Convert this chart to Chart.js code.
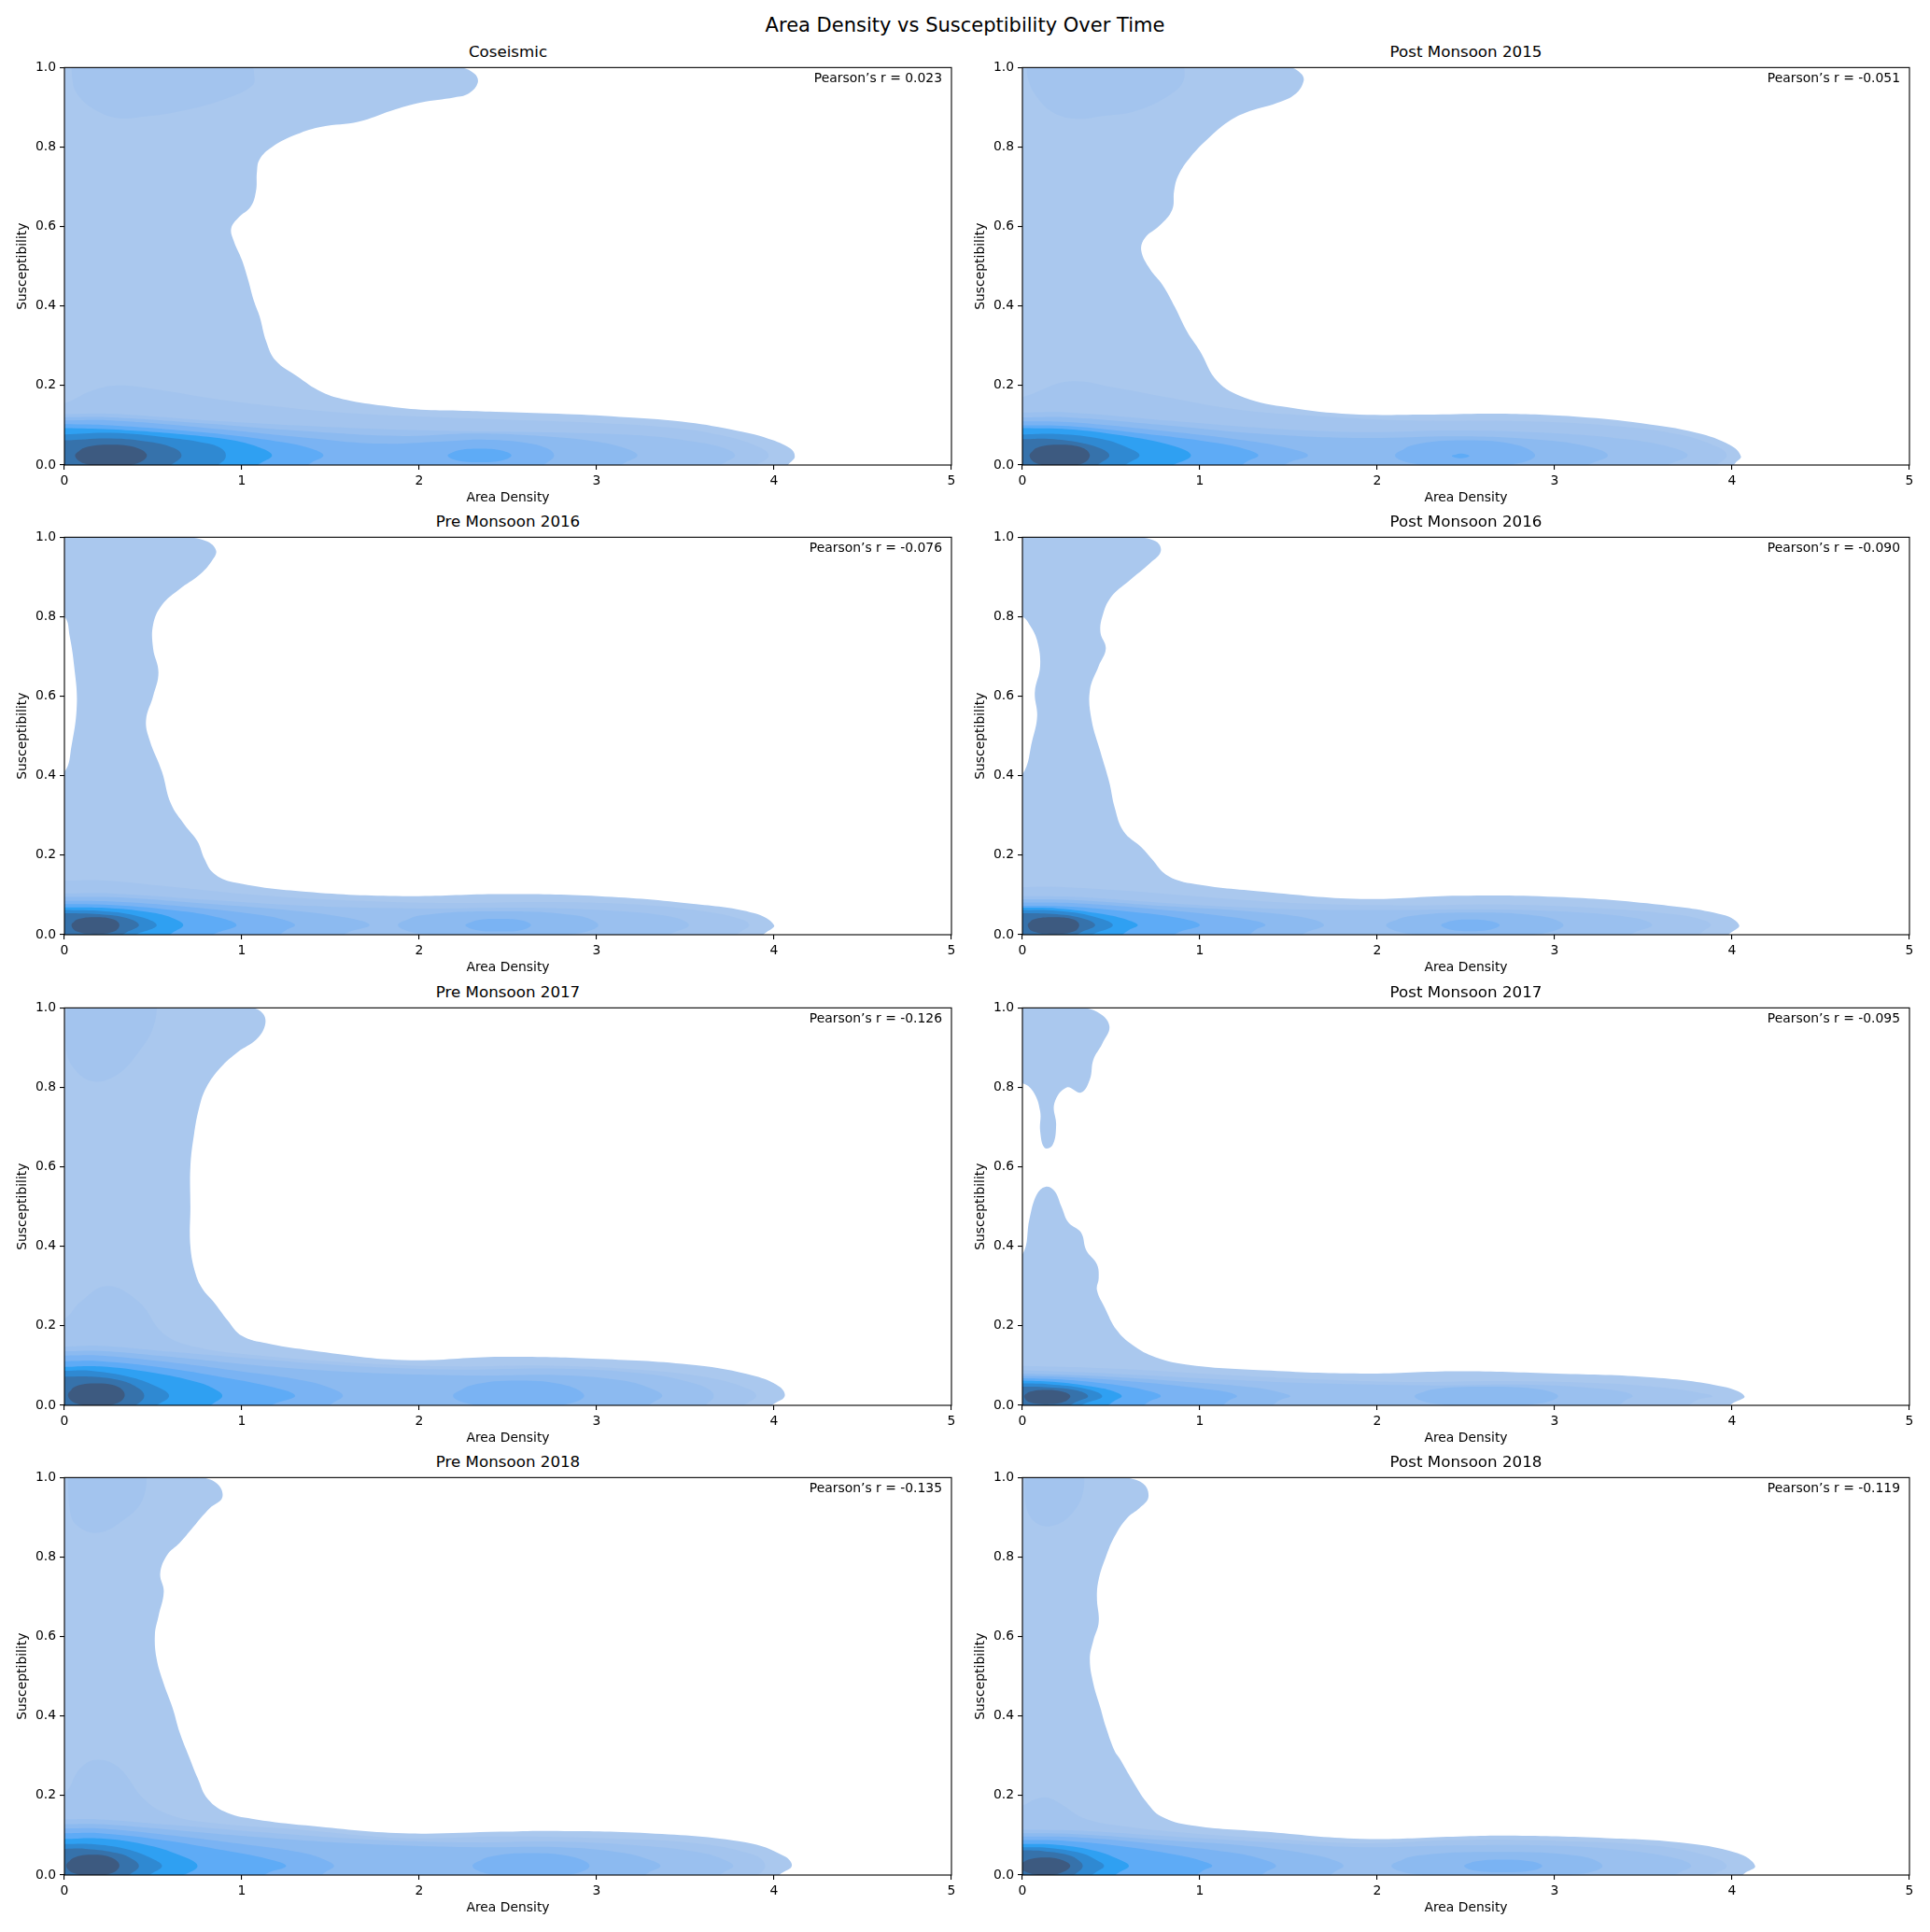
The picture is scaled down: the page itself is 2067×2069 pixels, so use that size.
<!DOCTYPE html>
<html lang="en">
<head>
<meta charset="UTF-8">
<title>Area Density vs Susceptibility Over Time</title>
<script src="https://cdn.jsdelivr.net/npm/chart.js"></script>
<style>
  body, html { margin: 0; padding: 0; background: #fff; }
  .figure { position: relative; width: 2067px; height: 2069px; background: #fff; font-family: "DejaVu Sans", sans-serif; color: #000; }
  .suptitle { position: absolute; left: 0; top: 17px; width: 2067px; text-align: center; font-size: 21px; line-height: 21px; }
  .panel-title { position: absolute; width: 950px; text-align: center; font-size: 16.7px; line-height: 16.7px; }
  .pearson { position: absolute; width: 400px; text-align: right; font-size: 13.9px; line-height: 13.9px; }
  canvas { position: absolute; }
</style>
</head>
<body>
<div class="figure" id="figure">
  <div class="suptitle">Area Density vs Susceptibility Over Time</div>
</div>

<script>
// colours of the 10 density levels, lightest (outer) to darkest (core)
const levelColors = ['#aac8ee', '#a3c4ee', '#9ac0ef', '#8cbaf0', '#7ab3f3', '#5eabf6', '#2fa0f2', '#2f89d2', '#3672ab', '#3d5a80'];

const panelTitles = ['Coseismic', 'Post Monsoon 2015', 'Pre Monsoon 2016', 'Post Monsoon 2016',
  'Pre Monsoon 2017', 'Post Monsoon 2017', 'Pre Monsoon 2018', 'Post Monsoon 2018'];
const pearsonR = [0.023, -0.051, -0.076, -0.090, -0.126, -0.095, -0.135, -0.119];

const xTickValues = [0, 1, 2, 3, 4, 5];
const yTickValues = [0.0, 0.2, 0.4, 0.6, 0.8, 1.0];

// ---- Coseismic ----
const coseismicOutline = [[[-0.1,1.0],[2.22,1.0],[2.31,0.985],[2.33,0.962],[2.28,0.935],[2.2,0.925],[2.01,0.912],[1.84,0.891],[1.66,0.864],[1.45,0.851],[1.31,0.832],[1.17,0.8],[1.1,0.769],[1.085,0.737],[1.08,0.69],[1.05,0.65],[0.98,0.622],[0.94,0.595],[0.955,0.563],[1.0,0.516],[1.034,0.468],[1.068,0.413],[1.1,0.374],[1.138,0.31],[1.19,0.263],[1.31,0.224],[1.45,0.184],[1.59,0.164],[1.8,0.149],[2.01,0.139],[2.22,0.137],[2.43,0.134],[2.78,0.129],[3.13,0.121],[3.48,0.109],[3.76,0.089],[3.97,0.066],[4.09,0.042],[4.117,0.022],[4.09,0.006],[4.0,-0.03],[-0.1,-0.03]]];
const coseismicTop = [[[0.04,1.03],[0.045,0.97],[0.07,0.935],[0.16,0.897],[0.3,0.873],[0.45,0.877],[0.65,0.89],[0.9,0.92],[1.06,0.955],[1.07,0.98],[1.05,1.03]]];
const coseismicBands = [
  [[0,0.155],[0.15,0.186],[0.3,0.2],[0.55,0.188],[0.8,0.17],[1.1,0.152],[1.5,0.134],[2.0,0.122],[2.5,0.114],[3.0,0.106],[3.4,0.095],[3.7,0.075],[3.9,0.048],[3.97,0.024]],
  [[0,0.128],[0.26,0.129],[0.81,0.112],[1.63,0.093],[2.19,0.086],[2.74,0.082],[3.29,0.073],[3.56,0.058],[3.72,0.042],[3.78,0.024]],
  [[0,0.12],[0.26,0.12],[0.81,0.104],[1.36,0.085],[1.91,0.073],[2.32,0.079],[2.74,0.071],[3.01,0.058],[3.16,0.042],[3.23,0.024]],
  [[0,0.112],[0.26,0.112],[0.81,0.093],[1.36,0.069],[1.77,0.054],[2.16,0.06],[2.35,0.064],[2.6,0.056],[2.72,0.042],[2.76,0.024]],
  [[0,0.103],[0.26,0.1],[0.81,0.081],[1.22,0.058],[1.4,0.04],[1.46,0.024]],
  [[0,0.093],[0.26,0.09],[0.67,0.077],[0.95,0.062],[1.11,0.042],[1.17,0.024]],
  [[0,0.077],[0.26,0.081],[0.59,0.069],[0.81,0.054],[0.89,0.04],[0.91,0.024]],
  [[0,0.062],[0.26,0.067],[0.48,0.058],[0.62,0.042],[0.66,0.024]]
];
const coseismicIslands = [
  [6, [[2.16,0.024],[2.21,0.036],[2.34,0.041],[2.47,0.036],[2.52,0.024],[2.47,0.012],[2.34,0.007],[2.21,0.012]]]
];
const coseismicCore = [[0.06,0.024],[0.11,0.043],[0.26,0.051],[0.41,0.043],[0.465,0.024],[0.41,0.004],[0.26,-0.003],[0.11,0.004]];

// ---- Post Monsoon 2015 ----
const post2015Outline = [[[-0.1,1.0],[1.5,1.0],[1.57,0.985],[1.585,0.966],[1.54,0.934],[1.435,0.911],[1.26,0.887],[1.157,0.863],[1.053,0.824],[0.949,0.776],[0.879,0.729],[0.855,0.69],[0.844,0.642],[0.775,0.603],[0.69,0.571],[0.67,0.539],[0.72,0.492],[0.79,0.453],[0.86,0.397],[0.93,0.334],[1.0,0.287],[1.1,0.21],[1.25,0.17],[1.5,0.145],[1.85,0.128],[2.27,0.127],[2.69,0.129],[3.14,0.121],[3.49,0.105],[3.8,0.081],[3.99,0.05],[4.05,0.022],[4.02,0.006],[3.95,-0.03],[-0.1,-0.03]]];
const post2015Top = [[[0.025,1.03],[0.03,0.975],[0.08,0.927],[0.18,0.885],[0.31,0.871],[0.45,0.878],[0.64,0.891],[0.84,0.934],[0.91,0.97],[0.9,1.03]]];
const post2015Bands = [
  [[0,0.171],[0.26,0.21],[0.53,0.194],[0.81,0.171],[1.22,0.139],[1.63,0.124],[2.19,0.112],[2.74,0.111],[3.29,0.1],[3.7,0.077],[3.92,0.045],[3.97,0.024]],
  [[0,0.132],[0.26,0.132],[0.81,0.112],[1.36,0.093],[1.91,0.083],[2.46,0.087],[3.0,0.08],[3.4,0.065],[3.65,0.045],[3.75,0.024]],
  [[0,0.12],[0.26,0.12],[0.81,0.1],[1.36,0.078],[1.9,0.068],[2.5,0.072],[2.95,0.062],[3.2,0.045],[3.3,0.024]],
  [[0,0.11],[0.26,0.108],[0.81,0.085],[1.25,0.062],[1.5,0.042],[1.61,0.024]],
  [[0,0.1],[0.26,0.098],[0.7,0.078],[1.1,0.055],[1.27,0.038],[1.33,0.024]],
  [[0,0.093],[0.26,0.09],[0.55,0.075],[0.85,0.048],[0.95,0.024]],
  [[0,0.077],[0.2,0.078],[0.45,0.065],[0.6,0.042],[0.66,0.024]],
  [[0,0.065],[0.15,0.066],[0.33,0.056],[0.45,0.04],[0.49,0.024]]
];
const post2015Islands = [
  [5, [[2.1,0.024],[2.2,0.05],[2.5,0.062],[2.79,0.05],[2.89,0.024],[2.79,0.004],[2.5,-0.004],[2.2,0.004]]],
  [6, [[2.42,0.023],[2.47,0.029],[2.52,0.023],[2.47,0.017]]]
];
const post2015Core = [[0.04,0.024],[0.08,0.043],[0.21,0.051],[0.34,0.043],[0.38,0.024],[0.34,0.004],[0.21,-0.003],[0.08,0.004]];

// ---- Pre Monsoon 2016 ----
const pre2016Outline = [[[-0.1,1.0],[0.66,1.0],[0.8,0.99],[0.855,0.966],[0.83,0.94],[0.76,0.905],[0.65,0.87],[0.55,0.83],[0.5,0.78],[0.5,0.72],[0.53,0.66],[0.5,0.6],[0.46,0.54],[0.48,0.49],[0.55,0.41],[0.6,0.33],[0.68,0.275],[0.75,0.235],[0.79,0.19],[0.84,0.155],[0.95,0.132],[1.36,0.108],[1.91,0.097],[2.46,0.102],[3.01,0.097],[3.56,0.077],[3.89,0.054],[4.0,0.024],[3.95,0.004],[3.85,-0.03],[-0.1,-0.03],[-0.1,0.4],[0,0.41],[0.04,0.475],[0.07,0.58],[0.055,0.675],[0.03,0.75],[0,0.8],[-0.1,0.81]]];
const pre2016Top = [];
const pre2016Bands = [
  [[0,0.136],[0.2,0.137],[0.53,0.124],[1.08,0.1],[1.63,0.086],[2.19,0.08],[2.74,0.082],[3.29,0.074],[3.65,0.056],[3.82,0.038],[3.86,0.024]],
  [[0,0.104],[0.3,0.103],[0.8,0.088],[1.4,0.072],[2.0,0.066],[2.6,0.068],[3.1,0.06],[3.42,0.045],[3.52,0.024]],
  [[0,0.095],[0.3,0.094],[0.8,0.078],[1.3,0.06],[1.6,0.042],[1.72,0.024]],
  [[0,0.085],[0.3,0.083],[0.7,0.07],[1.1,0.05],[1.25,0.036],[1.3,0.024]],
  [[0,0.077],[0.25,0.075],[0.6,0.062],[0.85,0.045],[0.97,0.024]],
  [[0,0.069],[0.25,0.067],[0.5,0.055],[0.62,0.04],[0.67,0.024]],
  [[0,0.062],[0.2,0.06],[0.4,0.048],[0.52,0.024]],
  [[0,0.054],[0.17,0.052],[0.35,0.042],[0.42,0.024]]
];
const pre2016Islands = [
  [4, [[1.88,0.024],[2.0,0.048],[2.45,0.059],[2.89,0.048],[3.01,0.024],[2.89,0.003],[2.45,-0.005],[2.0,0.003]]],
  [5, [[2.26,0.024],[2.32,0.036],[2.45,0.04],[2.58,0.036],[2.63,0.024],[2.58,0.012],[2.45,0.008],[2.32,0.012]]]
];
const pre2016Core = [[0.04,0.024],[0.07,0.038],[0.175,0.044],[0.28,0.038],[0.31,0.024],[0.28,0.008],[0.175,0.002],[0.07,0.008]];

// ---- Post Monsoon 2016 ----
const post2016Outline = [[[-0.1,1.0],[0.62,1.0],[0.75,0.99],[0.78,0.965],[0.72,0.935],[0.6,0.89],[0.5,0.85],[0.45,0.8],[0.44,0.76],[0.47,0.72],[0.43,0.676],[0.38,0.614],[0.39,0.54],[0.44,0.46],[0.49,0.383],[0.52,0.32],[0.57,0.26],[0.67,0.22],[0.73,0.19],[0.81,0.151],[0.95,0.129],[1.36,0.108],[1.91,0.09],[2.46,0.098],[3.01,0.095],[3.56,0.077],[3.95,0.05],[4.04,0.024],[3.99,0.004],[3.9,-0.03],[-0.1,-0.03],[-0.1,0.39],[0,0.404],[0.056,0.49],[0.083,0.55],[0.07,0.61],[0.1,0.676],[0.083,0.74],[0.04,0.78],[0,0.8],[-0.1,0.81]]];
const post2016Top = [];
const post2016Bands = [
  [[0,0.12],[0.15,0.121],[0.53,0.112],[1.08,0.093],[1.63,0.078],[2.19,0.074],[2.74,0.076],[3.29,0.066],[3.7,0.05],[3.85,0.035],[3.88,0.024]],
  [[0,0.097],[0.3,0.095],[0.8,0.08],[1.4,0.066],[2.0,0.062],[2.6,0.064],[3.1,0.057],[3.45,0.042],[3.55,0.024]],
  [[0,0.089],[0.3,0.087],[0.8,0.072],[1.3,0.058],[1.6,0.042],[1.7,0.024]],
  [[0,0.081],[0.3,0.079],[0.8,0.062],[1.15,0.046],[1.32,0.034],[1.37,0.024]],
  [[0,0.073],[0.25,0.071],[0.6,0.058],[0.88,0.042],[1.0,0.024]],
  [[0,0.068],[0.2,0.066],[0.45,0.052],[0.6,0.036],[0.65,0.024]],
  [[0,0.062],[0.2,0.06],[0.4,0.046],[0.51,0.024]],
  [[0,0.054],[0.17,0.052],[0.33,0.042],[0.41,0.024]]
];
const post2016Islands = [
  [4, [[2.05,0.024],[2.17,0.046],[2.55,0.056],[2.93,0.046],[3.05,0.024],[2.93,0.003],[2.55,-0.005],[2.17,0.003]]],
  [5, [[2.36,0.024],[2.41,0.034],[2.52,0.038],[2.64,0.034],[2.69,0.024],[2.64,0.013],[2.52,0.009],[2.41,0.013]]]
];
const post2016Core = [[0.03,0.024],[0.06,0.038],[0.175,0.044],[0.29,0.038],[0.32,0.024],[0.29,0.008],[0.175,0.002],[0.06,0.008]];

// ---- Pre Monsoon 2017 ----
const pre2017Outline = [[[-0.1,1.0],[1.05,1.0],[1.12,0.985],[1.13,0.955],[1.08,0.92],[0.98,0.89],[0.88,0.85],[0.8,0.8],[0.76,0.75],[0.73,0.68],[0.71,0.6],[0.71,0.5],[0.71,0.4],[0.74,0.33],[0.78,0.292],[0.84,0.261],[0.92,0.214],[1.0,0.175],[1.14,0.156],[1.36,0.14],[1.91,0.114],[2.46,0.122],[3.01,0.117],[3.56,0.101],[3.89,0.074],[4.03,0.047],[4.06,0.023],[4.0,0.004],[3.9,-0.03],[-0.1,-0.03]]];
const pre2017Top = [[[0.02,1.03],[0.01,0.9],[0.05,0.85],[0.16,0.815],[0.3,0.833],[0.42,0.89],[0.5,0.95],[0.53,1.03]]];
const pre2017Bands = [
  [[0,0.218],[0.09,0.26],[0.24,0.3],[0.42,0.26],[0.56,0.18],[0.75,0.146],[1.08,0.126],[1.63,0.107],[2.19,0.098],[2.74,0.1],[3.29,0.088],[3.65,0.068],[3.85,0.042],[3.9,0.024]],
  [[0,0.148],[0.2,0.15],[0.6,0.135],[1.0,0.12],[1.6,0.1],[2.2,0.09],[2.8,0.092],[3.3,0.078],[3.55,0.055],[3.64,0.038],[3.66,0.024]],
  [[0,0.136],[0.2,0.137],[0.6,0.122],[1.1,0.1],[1.7,0.082],[2.3,0.075],[2.8,0.076],[3.15,0.062],[3.32,0.04],[3.37,0.024]],
  [[0,0.125],[0.2,0.125],[0.6,0.108],[1.0,0.085],[1.35,0.062],[1.52,0.04],[1.57,0.024]],
  [[0,0.111],[0.2,0.111],[0.55,0.095],[0.9,0.07],[1.18,0.045],[1.3,0.024]],
  [[0,0.097],[0.2,0.098],[0.5,0.082],[0.75,0.058],[0.85,0.04],[0.89,0.024]],
  [[0,0.087],[0.15,0.087],[0.38,0.07],[0.53,0.045],[0.59,0.024]],
  [[0,0.072],[0.15,0.072],[0.32,0.062],[0.42,0.042],[0.45,0.024]]
];
const pre2017Islands = [
  [5, [[2.19,0.024],[2.29,0.05],[2.56,0.062],[2.83,0.05],[2.93,0.024],[2.83,0.003],[2.56,-0.005],[2.29,0.003]]]
];
const pre2017Core = [[0.02,0.026],[0.06,0.047],[0.18,0.055],[0.3,0.047],[0.34,0.026],[0.3,0.006],[0.18,-0.002],[0.06,0.006]];

// ---- Post Monsoon 2017 ----
const post2017Outline = [
  [[-0.1,0.37],[0,0.38],[0.04,0.47],[0.08,0.53],[0.13,0.55],[0.18,0.54],[0.22,0.5],[0.26,0.46],[0.33,0.435],[0.36,0.39],[0.42,0.355],[0.43,0.32],[0.42,0.29],[0.465,0.245],[0.53,0.19],[0.62,0.152],[0.75,0.121],[0.95,0.101],[1.36,0.088],[1.91,0.08],[2.46,0.086],[3.01,0.08],[3.56,0.07],[3.95,0.047],[4.07,0.023],[4.0,0.004],[3.9,-0.03],[-0.1,-0.03]],
  [[-0.1,1.0],[0.31,1.0],[0.42,0.99],[0.49,0.955],[0.45,0.91],[0.4,0.87],[0.38,0.82],[0.33,0.787],[0.25,0.8],[0.18,0.76],[0.19,0.705],[0.17,0.655],[0.125,0.648],[0.1,0.69],[0.1,0.74],[0.06,0.79],[0,0.81],[-0.1,0.81]]
];
const post2017Top = [];
const post2017Bands = [
  [[0,0.099],[0.53,0.092],[1.08,0.078],[1.63,0.066],[2.19,0.059],[2.74,0.061],[3.29,0.055],[3.6,0.045],[3.8,0.033],[3.89,0.023]],
  [[0,0.088],[0.5,0.08],[1.1,0.066],[1.7,0.055],[2.3,0.05],[2.8,0.052],[3.2,0.044],[3.4,0.033],[3.44,0.023]],
  [[0,0.08],[0.4,0.074],[0.9,0.06],[1.3,0.045],[1.45,0.033],[1.51,0.023]],
  [[0,0.074],[0.3,0.07],[0.7,0.057],[1.05,0.04],[1.17,0.032],[1.21,0.023]],
  [[0,0.068],[0.25,0.064],[0.55,0.05],[0.72,0.035],[0.78,0.023]],
  [[0,0.062],[0.2,0.058],[0.42,0.045],[0.52,0.034],[0.56,0.023]],
  [[0,0.055],[0.15,0.053],[0.35,0.042],[0.45,0.023]],
  [[0,0.047],[0.12,0.046],[0.3,0.038],[0.37,0.023]]
];
const post2017Islands = [
  [4, [[2.21,0.023],[2.31,0.04],[2.62,0.047],[2.92,0.04],[3.02,0.023],[2.92,0.005],[2.62,-0.002],[2.31,0.005]]]
];
const post2017Core = [[0.01,0.023],[0.04,0.034],[0.14,0.039],[0.23,0.034],[0.27,0.023],[0.23,0.008],[0.14,0.003],[0.04,0.008]];

// ---- Pre Monsoon 2018 ----
const pre2018Outline = [[[-0.1,1.0],[0.75,1.0],[0.86,0.985],[0.89,0.95],[0.82,0.923],[0.74,0.883],[0.65,0.836],[0.58,0.806],[0.54,0.759],[0.56,0.713],[0.53,0.651],[0.51,0.605],[0.52,0.543],[0.56,0.481],[0.61,0.42],[0.65,0.358],[0.7,0.3],[0.75,0.245],[0.81,0.19],[0.92,0.156],[1.08,0.14],[1.36,0.125],[1.91,0.105],[2.46,0.109],[2.74,0.111],[3.29,0.105],[3.84,0.082],[4.06,0.047],[4.1,0.023],[4.04,0.004],[3.95,-0.03],[-0.1,-0.03]]];
const pre2018Top = [[[0.02,1.03],[0.03,0.92],[0.07,0.88],[0.19,0.861],[0.33,0.892],[0.44,0.944],[0.47,1.03]]];
const pre2018Bands = [
  [[0,0.206],[0.09,0.269],[0.19,0.29],[0.31,0.269],[0.45,0.19],[0.59,0.152],[0.81,0.132],[1.36,0.113],[1.91,0.093],[2.46,0.097],[3.01,0.093],[3.56,0.08],[3.89,0.05],[3.95,0.023]],
  [[0,0.14],[0.2,0.14],[0.6,0.126],[1.1,0.108],[1.7,0.09],[2.3,0.082],[2.8,0.084],[3.3,0.072],[3.6,0.055],[3.72,0.038],[3.77,0.023]],
  [[0,0.128],[0.2,0.128],[0.6,0.114],[1.1,0.095],[1.7,0.078],[2.3,0.07],[2.8,0.07],[3.15,0.056],[3.3,0.038],[3.36,0.023]],
  [[0,0.117],[0.2,0.117],[0.6,0.1],[1.0,0.078],[1.35,0.055],[1.48,0.036],[1.52,0.023]],
  [[0,0.105],[0.2,0.105],[0.55,0.088],[0.9,0.062],[1.15,0.04],[1.25,0.023]],
  [[0,0.091],[0.2,0.092],[0.45,0.077],[0.65,0.05],[0.75,0.023]],
  [[0,0.078],[0.15,0.078],[0.35,0.065],[0.5,0.04],[0.55,0.023]],
  [[0,0.066],[0.12,0.066],[0.3,0.055],[0.39,0.038],[0.42,0.023]]
];
const pre2018Islands = [
  [5, [[2.3,0.023],[2.39,0.045],[2.63,0.055],[2.87,0.045],[2.96,0.023],[2.87,0.003],[2.63,-0.004],[2.39,0.003]]]
];
const pre2018Core = [[0.01,0.024],[0.05,0.043],[0.16,0.051],[0.27,0.043],[0.31,0.024],[0.27,0.005],[0.16,-0.002],[0.05,0.005]];

// ---- Post Monsoon 2018 ----
const post2018Outline = [[[-0.1,1.0],[0.55,1.0],[0.68,0.985],[0.71,0.95],[0.66,0.923],[0.59,0.898],[0.52,0.852],[0.47,0.8],[0.43,0.744],[0.42,0.698],[0.43,0.636],[0.4,0.59],[0.38,0.543],[0.4,0.481],[0.44,0.42],[0.47,0.373],[0.52,0.312],[0.55,0.292],[0.62,0.238],[0.7,0.183],[0.78,0.148],[0.95,0.125],[1.36,0.109],[1.91,0.091],[2.46,0.097],[2.74,0.099],[3.29,0.093],[3.7,0.082],[4.03,0.055],[4.13,0.023],[4.07,0.004],[3.98,-0.03],[-0.1,-0.03]]];
const post2018Top = [[[0.02,1.03],[0.02,0.93],[0.08,0.885],[0.18,0.88],[0.28,0.91],[0.34,0.96],[0.35,1.03]]];
const post2018Bands = [
  [[0,0.175],[0.07,0.19],[0.14,0.195],[0.23,0.175],[0.34,0.144],[0.53,0.125],[0.95,0.105],[1.36,0.093],[1.91,0.08],[2.46,0.088],[3.01,0.086],[3.56,0.074],[3.85,0.05],[3.97,0.023]],
  [[0,0.114],[0.3,0.112],[0.8,0.098],[1.4,0.082],[1.9,0.07],[2.5,0.075],[3.0,0.074],[3.4,0.062],[3.7,0.04],[3.77,0.023]],
  [[0,0.105],[0.3,0.103],[0.8,0.088],[1.3,0.072],[1.65,0.05],[1.77,0.035],[1.81,0.023]],
  [[0,0.097],[0.3,0.095],[0.8,0.076],[1.2,0.055],[1.38,0.036],[1.43,0.023]],
  [[0,0.088],[0.25,0.086],[0.6,0.07],[0.9,0.048],[1.02,0.034],[1.07,0.023]],
  [[0,0.078],[0.2,0.076],[0.42,0.06],[0.55,0.038],[0.6,0.023]],
  [[0,0.07],[0.15,0.068],[0.33,0.055],[0.42,0.037],[0.46,0.023]],
  [[0,0.062],[0.12,0.06],[0.26,0.05],[0.32,0.036],[0.34,0.023]]
];
const post2018Islands = [
  [4, [[2.08,0.023],[2.2,0.047],[2.68,0.058],[3.15,0.047],[3.27,0.023],[3.15,0.003],[2.68,-0.005],[2.2,0.003]]],
  [5, [[2.49,0.023],[2.55,0.034],[2.71,0.039],[2.87,0.034],[2.93,0.023],[2.87,0.011],[2.71,0.007],[2.55,0.011]]]
];
const post2018Core = [[-0.02,0.023],[0.03,0.038],[0.13,0.044],[0.22,0.038],[0.27,0.023],[0.22,0.006],[0.13,0.0],[0.03,0.006]];

// panel table built from the arrays above
const panels = [
  {outline: coseismicOutline, top: coseismicTop, bands: coseismicBands, islands: coseismicIslands, core: coseismicCore},
  {outline: post2015Outline, top: post2015Top, bands: post2015Bands, islands: post2015Islands, core: post2015Core},
  {outline: pre2016Outline, top: pre2016Top, bands: pre2016Bands, islands: pre2016Islands, core: pre2016Core},
  {outline: post2016Outline, top: post2016Top, bands: post2016Bands, islands: post2016Islands, core: post2016Core},
  {outline: pre2017Outline, top: pre2017Top, bands: pre2017Bands, islands: pre2017Islands, core: pre2017Core},
  {outline: post2017Outline, top: post2017Top, bands: post2017Bands, islands: post2017Islands, core: post2017Core},
  {outline: pre2018Outline, top: pre2018Top, bands: pre2018Bands, islands: pre2018Islands, core: pre2018Core},
  {outline: post2018Outline, top: post2018Top, bands: post2018Bands, islands: post2018Islands, core: post2018Core}
];

// layout of the axes boxes in the figure (pixels)
const axLefts = [69, 1095];
const axTops = [70, 573, 1077, 1580];
const axWidth = 950, axHeight = 428;

function polygonDataset(points, level) {
  return {
    data: points.map(p => ({x: p[0], y: p[1]})),
    backgroundColor: levelColors[level - 1],
    borderColor: 'rgba(0,0,0,0)',
    borderWidth: 0,
    pointRadius: 0,
    pointHoverRadius: 0,
    fill: 'shape',
    tension: 0.4,
    order: 20 - level
  };
}

// closed loop: repeat the first two points so the seam is smooth
function loop(points) {
  return points.concat([points[0], points[1]]);
}

// band along the bottom: upper edge from the data, tip mirrored below, closed off outside the axes
function tongue(upper) {
  const tip = upper[upper.length - 1];
  const prev = upper[upper.length - 2];
  return [[-0.1, upper[0][1]]].concat(upper, [[prev[0], 2 * tip[1] - prev[1]], [prev[0] - 0.15, -0.03], [-0.1, -0.03]]);
}

// axes frame (all four spines)
const framePlugin = {
  id: 'frame',
  afterDatasetsDraw(chart) {
    const {ctx, chartArea: a} = chart;
    ctx.save();
    ctx.strokeStyle = '#000';
    ctx.lineWidth = 1.1;
    ctx.strokeRect(a.left, a.top, a.right - a.left, a.bottom - a.top);
    ctx.restore();
  }
};

const tickFont = {family: 'DejaVu Sans', size: 13.9};
const figure = document.getElementById('figure');

panels.forEach((panel, i) => {
  const axL = axLefts[i % 2];
  const axT = axTops[Math.floor(i / 2)];

  const title = document.createElement('div');
  title.className = 'panel-title';
  title.style.left = axL + 'px';
  title.style.top = (axT - 23.5) + 'px';
  title.textContent = panelTitles[i];
  figure.appendChild(title);

  const note = document.createElement('div');
  note.className = 'pearson';
  note.style.left = (axL + axWidth - 10 - 400) + 'px';
  note.style.top = (axT + 7) + 'px';
  note.textContent = 'Pearson\u2019s r = ' + pearsonR[i].toFixed(3);

  const canvas = document.createElement('canvas');
  canvas.width = 69 + axWidth + 12;
  canvas.height = 10 + axHeight + 50;
  canvas.style.left = (axL - 69) + 'px';
  canvas.style.top = (axT - 10) + 'px';
  figure.appendChild(canvas);
  figure.appendChild(note);

  const datasets = [];
  panel.outline.forEach(p => datasets.push(polygonDataset(p, 1)));
  panel.top.forEach(p => datasets.push(polygonDataset(p, 2)));
  panel.bands.forEach((b, k) => datasets.push(polygonDataset(tongue(b), k + 2)));
  panel.islands.forEach(([level, p]) => datasets.push(polygonDataset(loop(p), level)));
  datasets.push(polygonDataset(loop(panel.core), 10));

  new Chart(canvas.getContext('2d'), {
    type: 'line',
    data: {datasets: datasets},
    options: {
      responsive: false,
      animation: false,
      events: [],
      layout: {padding: {top: 10, right: 12, bottom: 0, left: 0}},
      plugins: {legend: {display: false}, tooltip: {enabled: false}},
      scales: {
        x: {
          type: 'linear', min: 0, max: 5,
          afterBuildTicks: s => { s.ticks = xTickValues.map(v => ({value: v})); },
          afterFit: s => { s.height = 50; },
          grid: {drawOnChartArea: false, drawTicks: true, tickLength: 5, color: '#000', lineWidth: 1.1},
          border: {display: false},
          ticks: {padding: 4, color: '#000', font: tickFont, maxRotation: 0, autoSkip: false, callback: v => String(v)},
          title: {display: true, text: 'Area Density', color: '#000', font: tickFont, padding: {top: 0, bottom: 6.7}}
        },
        y: {
          type: 'linear', min: 0, max: 1,
          afterBuildTicks: s => { s.ticks = yTickValues.map(v => ({value: v})); },
          afterFit: s => { s.width = 69; },
          grid: {drawOnChartArea: false, drawTicks: true, tickLength: 5, color: '#000', lineWidth: 1.1},
          border: {display: false},
          ticks: {padding: 4, color: '#000', font: tickFont, autoSkip: false, callback: v => v.toFixed(1)},
          title: {display: true, text: 'Susceptibility', color: '#000', font: tickFont, padding: {top: 15.7, bottom: 0}}
        }
      }
    },
    plugins: [framePlugin]
  });
});
</script>
</body>
</html>
